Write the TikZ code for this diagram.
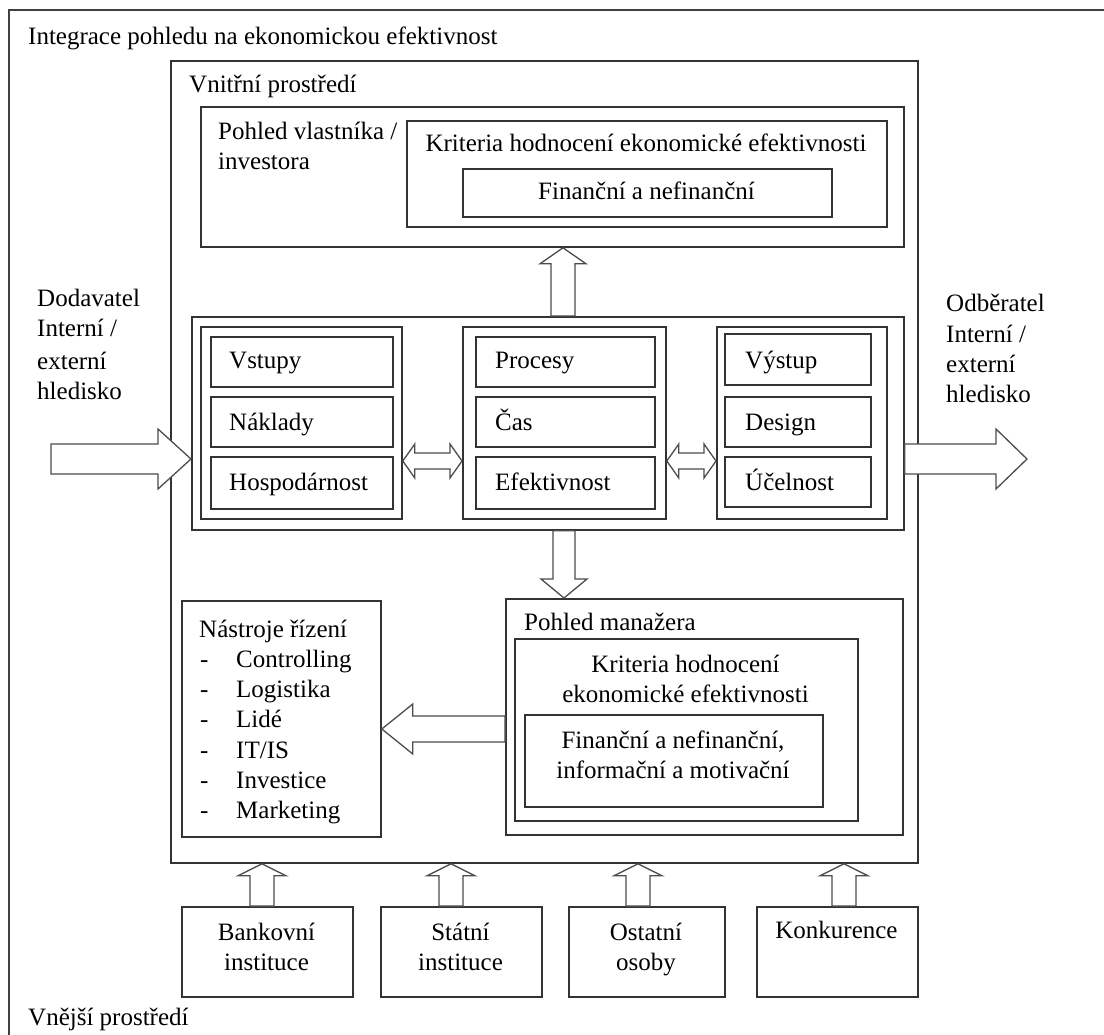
\documentclass[tikz,border=0pt]{standalone}
\usepackage{fontspec}
\setmainfont{Liberation Serif}
\usetikzlibrary{calc}
\newcommand\mkbox[5]{\node[box, minimum width={(#4)-(#2)}, minimum height={(#5)-(#3)}] (#1) at (#2,#3) {};}
% vertical block arrow: #1 tail anchor, #2 tip anchor, #3 x centre, #4 shaft half, #5 head half, #6 head length (+ = tip up)
\newcommand\varrow[6]{\draw[blk] ($(#3,0 |- #1)+(-#4,0)$) -- ($(#3,0 |- #2)+(-#4,#6)$) -- ($(#3,0 |- #2)+(-#5,#6)$) -- (#3,0 |- #2) -- ($(#3,0 |- #2)+(#5,#6)$) -- ($(#3,0 |- #2)+(#4,#6)$) -- ($(#3,0 |- #1)+(#4,0)$) -- cycle;}
% horizontal block arrow: #1 tail anchor, #2 tip anchor, #3 y centre, #4 shaft half, #5 head half, #6 head length (- = tip right)
\newcommand\harrow[6]{\draw[blk] ($(#1 |- 0,#3)+(0,-#4)$) -- ($(#2 |- 0,#3)+(#6,-#4)$) -- ($(#2 |- 0,#3)+(#6,-#5)$) -- (#2 |- 0,#3) -- ($(#2 |- 0,#3)+(#6,#5)$) -- ($(#2 |- 0,#3)+(#6,#4)$) -- ($(#1 |- 0,#3)+(0,#4)$) -- cycle;}
% double block arrow: #1 left anchor, #2 right anchor, #3 y, #4 shaft half, #5 head half, #6 head length
\newcommand\darrow[6]{\draw[blk] (#1 |- 0,#3) -- ($(#1 |- 0,#3)+(#6,-#5)$) -- ($(#1 |- 0,#3)+(#6,-#4)$) -- ($(#2 |- 0,#3)+(-#6,-#4)$) -- ($(#2 |- 0,#3)+(-#6,-#5)$) -- (#2 |- 0,#3) -- ($(#2 |- 0,#3)+(-#6,#5)$) -- ($(#2 |- 0,#3)+(-#6,#4)$) -- ($(#1 |- 0,#3)+(#6,#4)$) -- ($(#1 |- 0,#3)+(#6,#5)$) -- cycle;}
\begin{document}
\begin{tikzpicture}[x=1pt,y=-1pt,
  box/.style={draw=black!80, line width=1.8pt, inner sep=0pt, anchor=north west},
  txt/.style={inner sep=0pt, font=\fontsize{25}{30}\selectfont, anchor=base west},
  ctxt/.style={txt, anchor=base},
  blk/.style={draw=black!70, line width=1.3pt, fill=white, line join=miter},
  frame/.style={draw=black!75, line width=2pt}]
\useasboundingbox (0,0) rectangle (1104,1035);
\draw[frame] (9,1035) -- (9,10) -- (1104,10);

% boxes
\mkbox{env}{170}{60}{917}{862}
\mkbox{owner}{200}{106}{903}{246}
\mkbox{ocrit}{406}{120}{886}{226}
\mkbox{ofin}{462}{168}{831}{216}
\mkbox{mid}{191}{316}{903}{529}
\mkbox{colL}{200}{326}{401}{518}
\mkbox{colM}{462}{326}{665}{518}
\mkbox{colR}{716}{326}{886}{518}
\mkbox{vst}{210}{336}{392}{386}
\mkbox{nak}{210}{396}{392}{446}
\mkbox{hos}{210}{456}{392}{508}
\mkbox{pro}{475}{336}{654}{386}
\mkbox{cas}{475}{396}{654}{446}
\mkbox{efe}{475}{456}{654}{508}
\mkbox{vys}{724}{333}{870}{384}
\mkbox{des}{724}{396}{870}{446}
\mkbox{uce}{724}{456}{870}{506}
\mkbox{nas}{181}{600}{380}{836}
\mkbox{man}{505}{598}{902}{834}
\mkbox{mcrit}{514}{638}{857}{820}
\mkbox{mfin}{524}{714}{822}{806}
\mkbox{bank}{181}{906}{352}{996}
\mkbox{stat}{380}{906}{541}{996}
\mkbox{ost}{568}{906}{724}{996}
\mkbox{konk}{756}{906}{917}{996}

% free ends
\coordinate (dodtail) at (51,459);
\coordinate (odbtip) at (1027,459);

% block arrows
\varrow{mid.north}{owner.south}{563}{12}{23}{16}
\varrow{mid.south}{man.north}{564}{11}{23}{-19}
\harrow{dodtail}{mid.west}{459}{15}{30}{-33}
\harrow{mid.east}{odbtip}{459}{15}{30}{-31}
\harrow{man.west}{nas.east}{729}{13}{25}{31}
\darrow{colL.east}{colM.west}{461}{8}{17}{12}
\darrow{colM.east}{colR.west}{461}{8}{17}{12}
\varrow{bank.north}{env.south}{262}{12}{24}{12}
\varrow{stat.north}{env.south}{451}{12}{24}{12}
\varrow{ost.north}{env.south}{638}{12}{24}{12}
\varrow{konk.north}{env.south}{844}{12}{24}{12}

% texts
\node[txt] (title) at (28,45) {Integrace pohledu na ekonomickou efektivnost};
\node[txt] (vnitr) at (189,93) {Vnitřní prostředí};
\node[txt] (pv1) at (218,140) {Pohled vlastníka /};
\node[txt] (pv2) at (218,170) {investora};
\node[ctxt] (okrit) at (646,152) {Kriteria hodnocení ekonomické efektivnosti};
\node[ctxt] (ofint) at (646.5,200) {Finanční a nefinanční};

\node[txt] (dod1) at (37,307) {Dodavatel};
\node[txt] (dod2) at (37,337) {Interní /};
\node[txt] (dod3) at (37,369) {externí};
\node[txt] (dod4) at (37,399) {hledisko};
\node[txt] (odb1) at (946,312) {Odběratel};
\node[txt] (odb2) at (946,342) {Interní /};
\node[txt] (odb3) at (946,372) {externí};
\node[txt] (odb4) at (946,402) {hledisko};

\node[txt] (tvst) at (229,368) {Vstupy};
\node[txt] (tnak) at (229,430) {Náklady};
\node[txt] (thos) at (229,490) {Hospodárnost};
\node[txt] (tpro) at (495,368) {Procesy};
\node[txt] (tcas) at (495,430) {Čas};
\node[txt] (tefe) at (495,490) {Efektivnost};
\node[txt] (tvys) at (745,368) {Výstup};
\node[txt] (tdes) at (745,430) {Design};
\node[txt] (tuce) at (745,490) {Účelnost};

\node[txt] (tnas) at (199,637) {Nástroje řízení};
\node[txt] (d1) at (200,667) {-};
\node[txt] (d2) at (200,697) {-};
\node[txt] (d3) at (200,727) {-};
\node[txt] (d4) at (200,758) {-};
\node[txt] (d5) at (200,788) {-};
\node[txt] (d6) at (200,818) {-};
\node[txt] (i1) at (236,667) {Controlling};
\node[txt] (i2) at (236,697) {Logistika};
\node[txt] (i3) at (236,727) {Lidé};
\node[txt] (i4) at (236,758) {IT/IS};
\node[txt] (i5) at (236,788) {Investice};
\node[txt] (i6) at (236,818) {Marketing};

\node[txt] (tman) at (524,630) {Pohled manažera};
\node[ctxt] (mk1) at (685.5,672) {Kriteria hodnocení};
\node[ctxt] (mk2) at (685.5,702) {ekonomické efektivnosti};
\node[ctxt] (mf1) at (673,748) {Finanční a nefinanční,};
\node[ctxt] (mf2) at (673,778) {informační a motivační};

\node[ctxt] (tb1) at (266.5,940) {Bankovní};
\node[ctxt] (tb2) at (266.5,970) {instituce};
\node[ctxt] (ts1) at (460.5,940) {Státní};
\node[ctxt] (ts2) at (460.5,970) {instituce};
\node[ctxt] (to1) at (646,940) {Ostatní};
\node[ctxt] (to2) at (646,970) {osoby};
\node[ctxt] (tk) at (836.5,938) {Konkurence};

\node[txt] (vnej) at (28,1025) {Vnější prostředí};
\end{tikzpicture}
\end{document}
